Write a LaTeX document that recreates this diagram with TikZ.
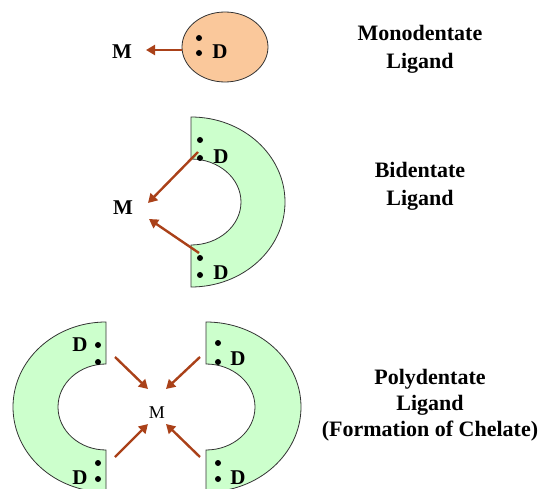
\documentclass[tikz,border=0pt]{standalone}
\usepackage{fontspec}
\setmainfont{Liberation Serif}
\usetikzlibrary{arrows.meta}
\definecolor{peach}{RGB}{250,200,155}
\definecolor{mint}{RGB}{204,255,204}
\definecolor{bondbrown}{RGB}{170,65,25}
\tikzset{ring/.style={draw=black!80,line width=0.8pt,fill=mint},
  bond/.style={bondbrown,line width=2.4pt,-{Triangle[length=9pt,width=10pt]}},
  lp/.style={circle,fill=black,inner sep=0pt,minimum size=6pt},
  donor/.style={font=\bfseries\fontsize{21}{21}\selectfont,inner sep=0pt},
  caption/.style={font=\bfseries\fontsize{22}{28}\selectfont,align=center}}
\begin{document}
\begin{tikzpicture}[x=1pt,y=-1pt]
\useasboundingbox (0,0) rectangle (541,489);
% monodentate
\draw[draw=black!80,line width=0.8pt,fill=peach] (225,47) ellipse[x radius=43,y radius=35];
\node[lp] (m1) at (199,38) {}; \node[lp] (m2) at (199,53) {};
\node[donor] (D1) at (220,52) {D};
\node[donor] (M1) at (122,52) {M};
\coordinate (t1) at (182,50); \coordinate (h1) at (146,50);
\draw[bond] (t1) -- (h1);
\node[caption] (cap1) at (420,49) {Monodentate\\Ligand};
% bidentate
\draw[ring] (191,117) arc[start angle=-90,end angle=90,x radius=94,y radius=85] -- (191,245) arc[start angle=90,end angle=-90,x radius=50,y radius=43] -- cycle;
\node[lp] (b1) at (200,140) {}; \node[lp] (b2) at (200,158) {};
\node[lp] (b3) at (200,258) {}; \node[lp] (b4) at (200,275) {};
\node[donor] (D2) at (221,157) {D}; \node[donor] (D3) at (221,273) {D};
\node[donor] (M2) at (123,208) {M};
\coordinate (t2) at (198,152); \coordinate (h2) at (148,203);
\coordinate (t3) at (199,253); \coordinate (h3) at (149,219);
\draw[bond] (t2) -- (h2); \draw[bond] (t3) -- (h3);
\node[caption] (cap2) at (420,186) {Bidentate\\Ligand};
% polydentate
\draw[ring] (106,322) arc[start angle=-90,end angle=-270,x radius=93,y radius=85] -- (106,450) arc[start angle=90,end angle=270,x radius=48,y radius=43] -- cycle;
\draw[ring] (206,322) arc[start angle=-90,end angle=90,x radius=95,y radius=85] -- (206,450) arc[start angle=90,end angle=-90,x radius=49,y radius=43] -- cycle;
\node[lp] (p1) at (98,345) {}; \node[lp] (p2) at (98,362) {};
\node[lp] (p3) at (98,463) {}; \node[lp] (p4) at (98,479) {};
\node[lp] (p5) at (218,343) {}; \node[lp] (p6) at (218,362) {};
\node[lp] (p7) at (218,463) {}; \node[lp] (p8) at (218,479) {};
\node[donor] (D4) at (80,345) {D}; \node[donor] (D5) at (80,478) {D};
\node[donor] (D6) at (238,359) {D}; \node[donor] (D7) at (238,478) {D};
\node[font=\fontsize{18}{18}\selectfont,inner sep=0pt] (M3) at (157,413) {M};
\coordinate (t4) at (115,357); \coordinate (h4) at (148,389);
\coordinate (t5) at (200,357); \coordinate (h5) at (166,389);
\coordinate (t6) at (115,457); \coordinate (h6) at (148,424);
\coordinate (t7) at (200,457); \coordinate (h7) at (166,424);
\draw[bond] (t4) -- (h4); \draw[bond] (t5) -- (h5);
\draw[bond] (t6) -- (h6); \draw[bond] (t7) -- (h7);
\node[caption,font=\bfseries\fontsize{22}{26}\selectfont] (cap3) at (430,405) {Polydentate\\Ligand\\(Formation of Chelate)};
\end{tikzpicture}
\end{document}
